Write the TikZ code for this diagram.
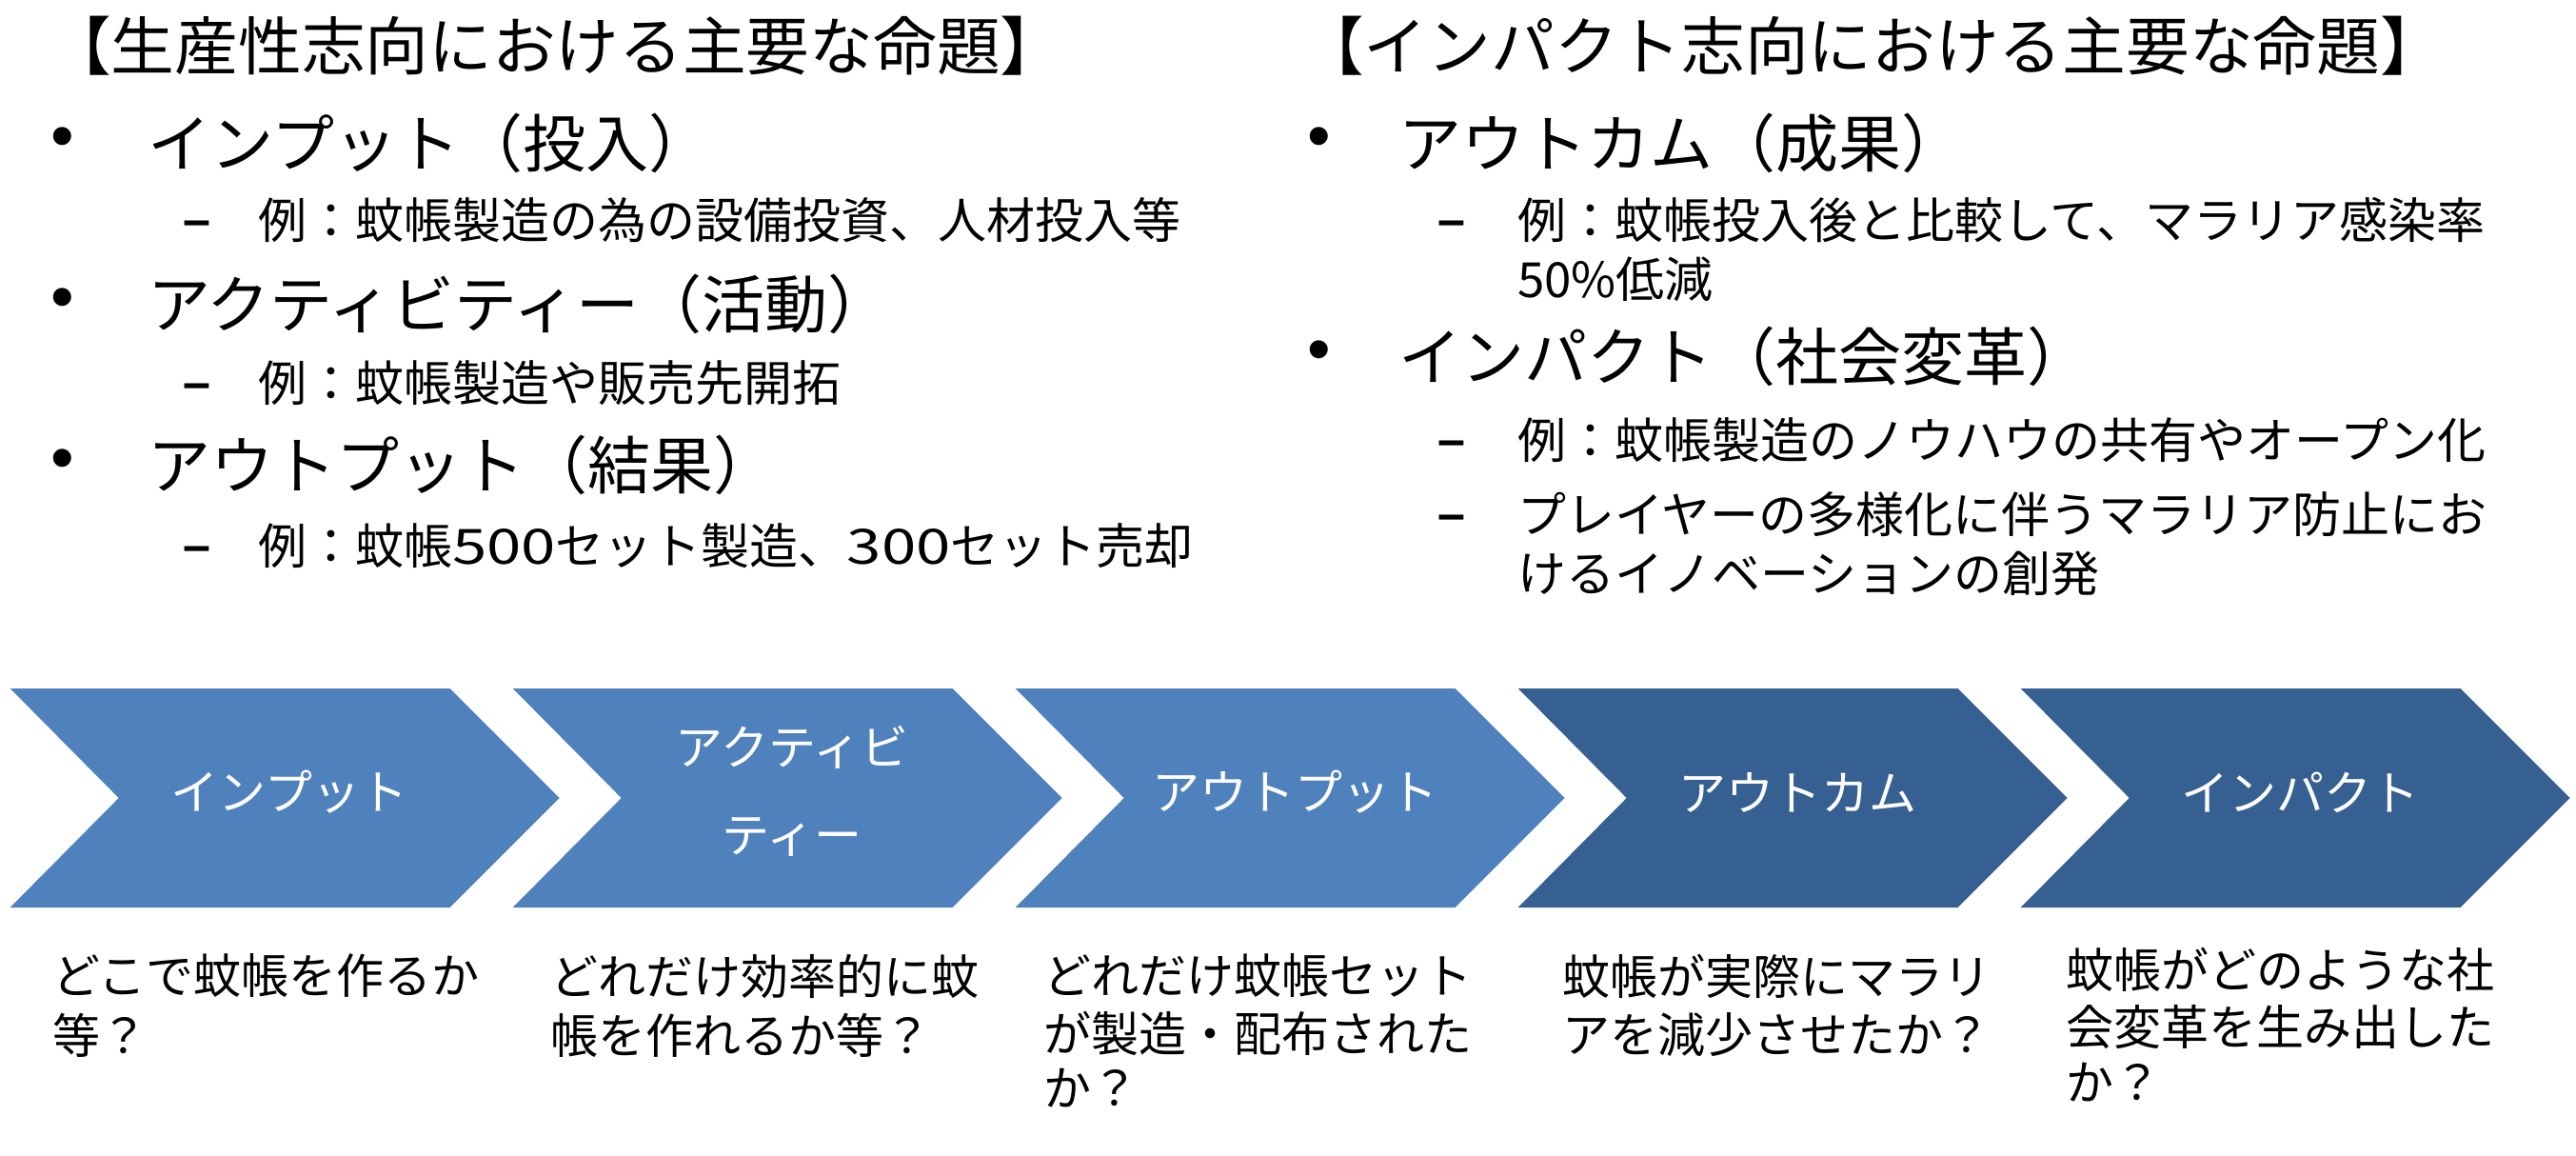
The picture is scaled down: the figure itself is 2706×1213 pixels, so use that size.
\documentclass[tikz,border=0pt]{standalone}
\usepackage{fontspec}
\setmainfont{Noto Sans CJK JP}
\newfontfamily\latfont{Liberation Sans}
\newfontfamily\widedig[FakeStretch=1.28]{Noto Sans CJK JP}
\definecolor{chevA}{HTML}{4F81BD}
\definecolor{chevB}{HTML}{376092}
\begin{document}
\begin{tikzpicture}[x=1pt,y=-1pt,
  txt/.style={inner sep=0pt, anchor=west},
  hd/.style={txt, font=\fontsize{66.7}{80}\selectfont},
  lone/.style={txt, font=\fontsize{66}{76}\selectfont},
  ltwo/.style={txt, font=\fontsize{51}{62}\selectfont},
  btxt/.style={txt, font=\fontsize{50}{62}\selectfont},
  bul/.style={inner sep=0pt, font=\latfont\fontsize{70}{80}\selectfont},
  dsh/.style={inner sep=0pt, font=\latfont\bfseries\fontsize{52}{60}\selectfont},
  chlab/.style={inner sep=0pt, text=white, align=center, font=\fontsize{50}{92}\selectfont}]
\useasboundingbox (0,0) rectangle (2706,1213);
\fill[white] (0,0) rectangle (2706,1213);

% chevrons
\foreach \L/\c in {10.7/chevA, 538.7/chevA, 1066.7/chevA, 1594.7/chevB, 2122.7/chevB}{
  \fill[\c] (\L,723) -- ++(462,0) -- ++(115,115) -- ++(-115,115) -- ++(-462,0) -- ++(114,-115) -- cycle;
}
\node[chlab] (c1) at (304,832) {インプット};
\node[chlab] (c2) at (832,831) {アクティビ\\ティー};
\node[chlab] (c3) at (1360,832) {アウトプット};
\node[chlab] (c4) at (1888,832) {アウトカム};
\node[chlab] (c5) at (2416,832) {インパクト};

% left block
\node[hd] (lh) at (50,48) {【生産性志向における主要な命題】};
\node[bul] (lb1) at (66,150) {•};
\node[lone] (l1) at (155,150) {インプット（投入）};
\node[dsh] (ld1) at (207,240) {–};
\node[ltwo] (l1a) at (271,231) {例：蚊帳製造の為の設備投資、人材投入等};
\node[bul] (lb2) at (66,319) {•};
\node[lone] (l2) at (155,319) {アクティビティー（活動）};
\node[dsh] (ld2) at (207,411) {–};
\node[ltwo] (l2a) at (271,402) {例：蚊帳製造や販売先開拓};
\node[bul] (lb3) at (66,488) {•};
\node[lone] (l3) at (155,488) {アウトプット（結果）};
\node[dsh] (ld3) at (207,582) {–};
\node[ltwo] (l3a) at (271,573) {例：蚊帳{\widedig 500}セット製造、{\widedig 300}セット売却};

% right block
\node[hd] (rh) at (1366,48) {【インパクト志向における主要な命題】};
\node[bul] (rb1) at (1386,150) {•};
\node[lone] (r1) at (1469,150) {アウトカム（成果）};
\node[dsh] (rd1) at (1525,240) {–};
\node[ltwo] (r1a) at (1594,231) {例：蚊帳投入後と比較して、マラリア感染率};
\node[ltwo] (r1b) at (1594,293) {50\%低減};
\node[bul] (rb2) at (1386,374) {•};
\node[lone] (r2) at (1469,374) {インパクト（社会変革）};
\node[dsh] (rd2) at (1525,471) {–};
\node[ltwo] (r2a) at (1594,462) {例：蚊帳製造のノウハウの共有やオープン化};
\node[dsh] (rd3) at (1525,549) {–};
\node[ltwo] (r2b) at (1594,540) {プレイヤーの多様化に伴うマラリア防止にお};
\node[ltwo] (r2c) at (1594,602) {けるイノベーションの創発};

% bottom texts
\node[btxt] (b1a) at (55,1025) {どこで蚊帳を作るか};
\node[btxt] (b1b) at (55,1087) {等？};
\node[btxt] (b2a) at (578,1025) {どれだけ効率的に蚊};
\node[btxt] (b2b) at (578,1087) {帳を作れるか等？};
\node[btxt] (b3a) at (1096,1025) {どれだけ蚊帳セット};
\node[btxt] (b3b) at (1096,1085) {が製造・配布された};
\node[btxt] (b3c) at (1096,1143) {か？};
\node[btxt] (b4a) at (1641,1025) {蚊帳が実際にマラリ};
\node[btxt] (b4b) at (1641,1087) {アを減少させたか？};
\node[btxt] (b5a) at (2170,1018) {蚊帳がどのような社};
\node[btxt] (b5b) at (2170,1079) {会変革を生み出した};
\node[btxt] (b5c) at (2170,1137) {か？};
\end{tikzpicture}
\end{document}
